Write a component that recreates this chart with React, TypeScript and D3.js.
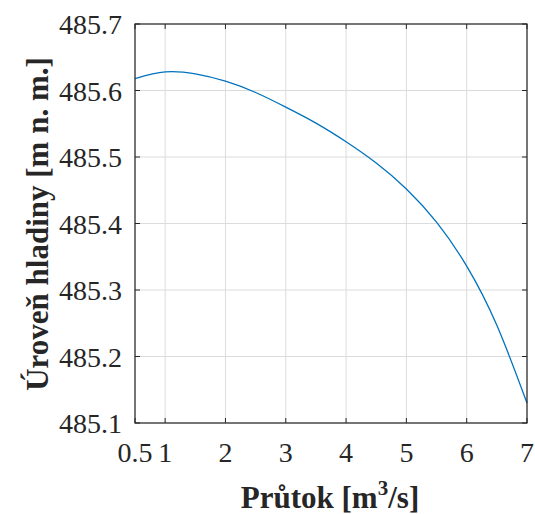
import React from "react";
import * as d3 from "d3";

const flowX = [0.5, 1, 1.5, 2, 2.5, 3, 3.5, 4, 4.5, 5, 5.5, 6, 6.5, 7];
const levelY = [485.618, 485.628, 485.625, 485.614, 485.597, 485.575, 485.551, 485.523, 485.491, 485.452, 485.402, 485.336, 485.247, 485.130];
const xTicks = [0.5, 1, 2, 3, 4, 5, 6, 7];
const yTicks = [485.1, 485.2, 485.3, 485.4, 485.5, 485.6, 485.7];

const W = 535, H = 514;
const M = { left: 135, right: 527, top: 24, bottom: 423 };

export default function App() {
  const x = d3.scaleLinear().domain([0.5, 7]).range([M.left, M.right]);
  const y = d3.scaleLinear().domain([485.1, 485.7]).range([M.bottom, M.top]);
  const pts = flowX.map((v, i) => [v, levelY[i]] as [number, number]);
  const line = d3.line<[number, number]>().x(d => x(d[0])).y(d => y(d[1])).curve(d3.curveNatural);
  const font = "Liberation Serif";
  const axisColor = "#262626";
  const tl = 5;
  return (
    <svg width={W} height={H} style={{ position: "absolute", left: 0, top: 0 }}>
      <rect width={W} height={H} fill="#fff" />
      {xTicks.map(t => (
        <line key={"gx" + t} x1={x(t)} x2={x(t)} y1={M.top} y2={M.bottom} stroke="#dcdcdc" strokeWidth={1} />
      ))}
      {yTicks.map(t => (
        <line key={"gy" + t} x1={M.left} x2={M.right} y1={y(t)} y2={y(t)} stroke="#dcdcdc" strokeWidth={1} />
      ))}
      <path d={line(pts) || ""} fill="none" stroke="#0072BD" strokeWidth={1.3} />
      {xTicks.map(t => (
        <g key={"tx" + t}>
          <line x1={x(t)} x2={x(t)} y1={M.bottom} y2={M.bottom - tl} stroke={axisColor} />
          <line x1={x(t)} x2={x(t)} y1={M.top} y2={M.top + tl} stroke={axisColor} />
          <text x={x(t)} y={462} textAnchor="middle" style={{ fontFamily: font, fontSize: 28 }} fill={axisColor}>{String(t)}</text>
        </g>
      ))}
      {yTicks.map(t => (
        <g key={"ty" + t}>
          <line x1={M.left} x2={M.left + tl} y1={y(t)} y2={y(t)} stroke={axisColor} />
          <line x1={M.right} x2={M.right - tl} y1={y(t)} y2={y(t)} stroke={axisColor} />
          <text x={M.left - 13} y={y(t) + 10} textAnchor="end" style={{ fontFamily: font, fontSize: 28 }} fill={axisColor}>{t.toFixed(1)}</text>
        </g>
      ))}
      <rect x={M.left} y={M.top} width={M.right - M.left} height={M.bottom - M.top} fill="none" stroke={axisColor} strokeWidth={1.2} />
      <text x={330} y={508} textAnchor="middle" style={{ fontFamily: font, fontSize: 31, fontWeight: "bold" }} fill={axisColor}>
        Průtok [m<tspan dy={-13} style={{ fontSize: 21 }}>3</tspan><tspan dy={13}>/s]</tspan>
      </text>
      <text transform={`translate(48,224) rotate(-90)`} textAnchor="middle" style={{ fontFamily: font, fontSize: 31, fontWeight: "bold" }} fill={axisColor}>
        Úroveň hladiny [m n. m.]
      </text>
    </svg>
  );
}
